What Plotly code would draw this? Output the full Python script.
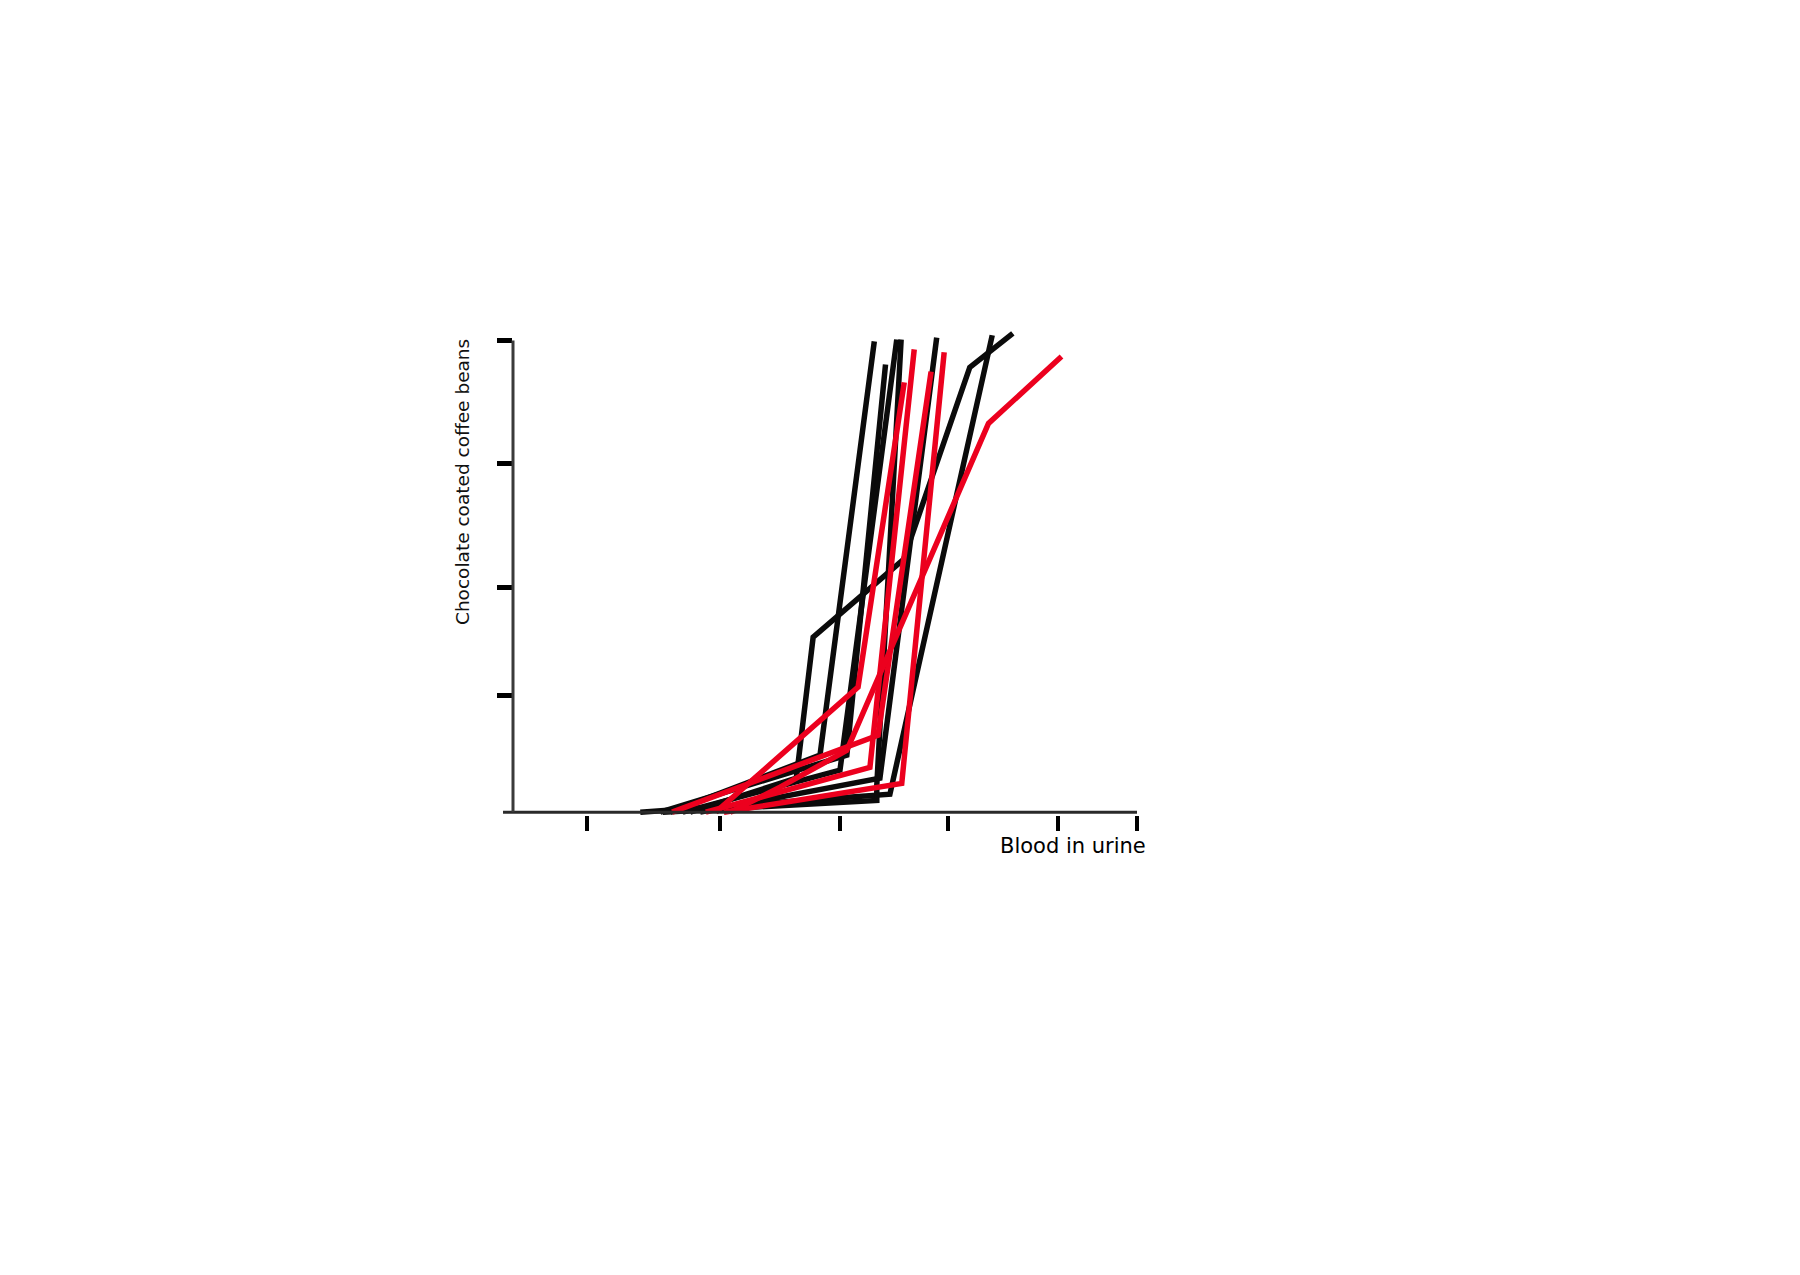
import plotly.graph_objects as go

# ---- data (arbitrary units; axes carry no labels) ----
x_ticks = [11.9, 33.2, 52.4, 69.7, 87.3, 100]
y_ticks = [24.8, 47.7, 73.9, 100]

x_title = "Blood in urine"
y_title = "Chocolate coated coffee beans"

# black series
black_1_x = [20.4, 60.4, 76.8]
black_1_y = [0.0, 3.8, 101.1]
black_2_x = [28.4, 45.4, 48.1, 62.6, 73.2, 80.1]
black_2_y = [0.0, 7.2, 37.1, 53.6, 94.3, 101.5]
black_3_x = [25.2, 49.2, 57.9]
black_3_y = [0.0, 12.1, 99.8]
black_4_x = [23.6, 53.5, 59.7]
black_4_y = [0.0, 12.1, 94.9]
black_5_x = [27.2, 52.4, 61.5]
black_5_y = [0.0, 8.9, 100.2]
black_6_x = [24.0, 58.3, 58.3, 62.2]
black_6_y = [0.0, 2.5, 5.7, 100.2]
black_7_x = [30.0, 58.8, 67.9]
black_7_y = [0.0, 7.2, 100.6]

# red series
red_1_x = [32.5, 55.3, 62.7]
red_1_y = [0.0, 26.5, 91.1]
red_2_x = [30.9, 57.2, 64.3]
red_2_y = [0.0, 9.5, 98.1]
red_3_x = [25.5, 58.5, 67.0]
red_3_y = [0.0, 16.3, 93.4]
red_4_x = [33.8, 62.3, 69.1]
red_4_y = [0.0, 6.1, 97.5]
red_5_x = [34.8, 42.8, 53.5, 76.2, 87.9]
red_5_y = [0.0, 5.3, 13.1, 82.4, 96.6]

black_series = [
    (black_1_x, black_1_y), (black_2_x, black_2_y), (black_3_x, black_3_y),
    (black_4_x, black_4_y), (black_5_x, black_5_y), (black_6_x, black_6_y),
    (black_7_x, black_7_y),
]
red_series = [
    (red_1_x, red_1_y), (red_2_x, red_2_y), (red_3_x, red_3_y),
    (red_4_x, red_4_y), (red_5_x, red_5_y),
]

BLACK = "#0b0b0b"
RED = "rgb(236,0,30)"

fig = go.Figure()
for xs, ys in black_series:
    fig.add_trace(go.Scatter(x=xs, y=ys, mode="lines",
                             line=dict(color=BLACK, width=5.5), hoverinfo="skip"))
for xs, ys in red_series:
    fig.add_trace(go.Scatter(x=xs, y=ys, mode="lines",
                             line=dict(color=RED, width=5.5), hoverinfo="skip"))

Y_LO, Y_HI = -0.6, 102
y0_paper = (0 - Y_LO) / (Y_HI - Y_LO)
y100_paper = (100 - Y_LO) / (Y_HI - Y_LO)

fig.update_layout(
    width=1800, height=1275,
    margin=dict(l=505, r=671, t=323, b=468, pad=0),
    paper_bgcolor="white", plot_bgcolor="white",
    showlegend=False,
    xaxis=dict(range=[0, 100], showgrid=False, zeroline=False, showline=False,
               tickmode="array", tickvals=x_ticks, showticklabels=False,
               ticks="outside", ticklen=15, tickwidth=4, tickcolor="#000"),
    yaxis=dict(range=[Y_LO, Y_HI], showgrid=False, zeroline=False, showline=False,
               tickmode="array", tickvals=y_ticks, showticklabels=False,
               ticks="outside", ticklen=15, tickwidth=5, tickcolor="#000"),
    shapes=[
        dict(type="line", xref="paper", yref="paper", x0=-0.016, x1=1.0,
             y0=y0_paper, y1=y0_paper, line=dict(color="#2a2a2a", width=3)),
        dict(type="line", xref="paper", yref="paper", x0=0, x1=0,
             y0=y0_paper, y1=y100_paper, line=dict(color="#3a3a3a", width=3)),
    ],
    annotations=[
        dict(text=x_title, xref="paper", yref="paper", x=0.897, y=-0.064,
             xanchor="center", yanchor="middle", showarrow=False,
             font=dict(family="DejaVu Sans", size=21, color="#000")),
        dict(text=y_title, xref="paper", yref="paper", x=-0.0817, y=0.688,
             xanchor="center", yanchor="middle", showarrow=False, textangle=-90,
             font=dict(family="DejaVu Sans", size=18.5, color="#111")),
    ],
)

fig.write_html("out.html")
